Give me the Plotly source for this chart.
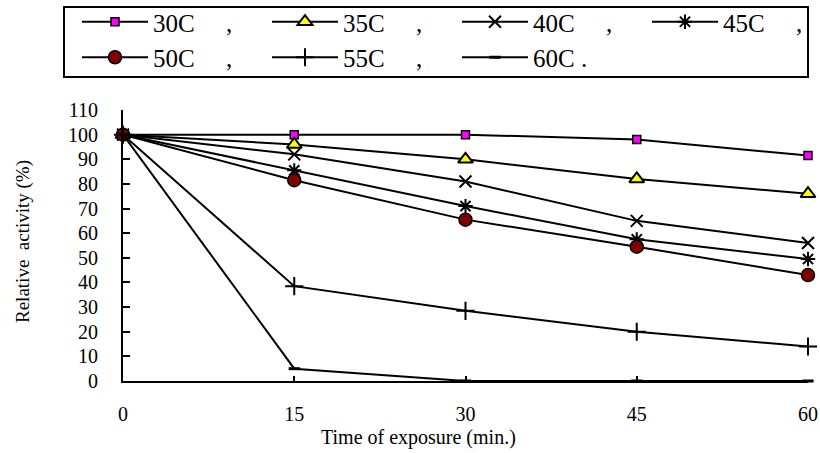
import plotly.graph_objects as go

# Exposure time (minutes) and residual relative activity (%) at each temperature
time_min = [0, 15, 30, 45, 60]
act_30c = [100, 100, 100, 98, 91.5]
act_35c = [100, 96, 90, 82, 76]
act_40c = [100, 92, 81, 65, 56]
act_45c = [100, 85.5, 71, 57.5, 49.5]
act_50c = [100, 81.5, 65.5, 54.5, 43]
act_55c = [100, 38.5, 28.5, 20, 14]
act_60c = [100, 5, 0, 0, 0]

x_ticks = [0, 15, 30, 45, 60]
y_ticks = list(range(0, 111, 10))

SERIF = "Liberation Serif"

# pixel geometry of the plotting area
W, H = 820, 453
L, R, T, B = 123, 12, 110, 72
PW, PH = W - L - R, H - T - B


def px_x(px):
    return (px - L) / PW


def px_y(py):
    return (H - B - py) / PH


series = [
    ("30C     ,", act_30c, dict(symbol="square", size=8, color="#FF00FF",
                                 line=dict(color="black", width=1.5))),
    ("35C     ,", act_35c, dict(symbol="triangle-up", size=13, color="#FFFF00",
                                 line=dict(color="black", width=2))),
    ("40C     ,", act_40c, dict(symbol="x-thin", size=12, color="black",
                                 line=dict(color="black", width=2))),
    ("45C     ,", act_45c, dict(symbol="asterisk", size=12, color="black",
                                 line=dict(color="black", width=2))),
    ("50C     ,", act_50c, dict(symbol="circle", size=13, color="#800000",
                                 line=dict(color="black", width=1.5))),
    ("55C     ,", act_55c, dict(symbol="cross-thin", size=13, color="black",
                                 line=dict(color="black", width=2))),
    ("60C .", act_60c, dict(symbol="line-ew", size=8, color="black",
                            line=dict(color="black", width=3))),
]

fig = go.Figure()
for name, vals, mk in series:
    fig.add_trace(go.Scatter(
        x=time_min, y=vals, name=name, mode="lines+markers",
        line=dict(color="black", width=2),
        marker=mk, cliponaxis=False,
    ))

# frame around the legend
fig.add_shape(type="rect", xref="paper", yref="paper",
              x0=px_x(64), x1=px_x(808), y0=px_y(77), y1=px_y(7),
              line=dict(color="black", width=2), fillcolor="rgba(0,0,0,0)")

fig.add_annotation(text="Time of exposure (min.)", xref="paper", yref="paper",
                   x=px_x(418), y=px_y(437), showarrow=False,
                   xanchor="center", yanchor="middle",
                   font=dict(family=SERIF, size=20, color="black"))
fig.add_annotation(text="Relative  activity (%)", xref="paper", yref="paper",
                   x=px_x(23), y=px_y(242), showarrow=False, textangle=-90,
                   xanchor="center", yanchor="middle",
                   font=dict(family=SERIF, size=19, color="black"))

fig.update_layout(
    width=W, height=H,
    margin=dict(l=L, r=R, t=T, b=B, autoexpand=False),
    paper_bgcolor="white", plot_bgcolor="white",
    font=dict(family=SERIF, color="black", size=20),
    showlegend=True,
    legend=dict(
        orientation="h",
        x=px_x(77), xanchor="left", y=px_y(-1), yanchor="top",
        borderwidth=0, bgcolor="rgba(0,0,0,0)",
        font=dict(family=SERIF, size=25, color="black"),
        itemwidth=66, entrywidth=109, entrywidthmode="pixels",
        tracegroupgap=0,
    ),
    xaxis=dict(
        range=[0, 60], tickvals=x_ticks, ticktext=[str(v) for v in x_ticks],
        showgrid=False, zeroline=False, showline=True, linecolor="black",
        linewidth=2, ticks="inside", ticklen=5, tickwidth=2, tickcolor="black",
        ticklabelstandoff=14, tickfont=dict(family=SERIF, size=20),
    ),
    yaxis=dict(
        range=[0, 110], tickvals=y_ticks, showgrid=False, zeroline=False,
        showline=True, linecolor="black", linewidth=2, ticks="inside",
        ticklen=7, tickwidth=2, tickcolor="black", ticklabelstandoff=19,
        tickfont=dict(family=SERIF, size=20),
    ),
)

fig.write_html("out.html")
